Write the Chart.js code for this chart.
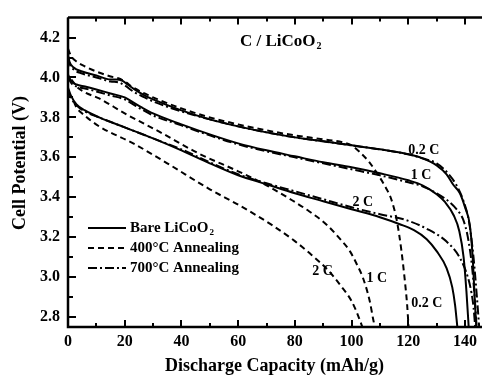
<!DOCTYPE html>
<html>
<head>
<meta charset="utf-8">
<script src="https://cdn.jsdelivr.net/npm/chart.js@4.4.0/dist/chart.umd.min.js"></script>
<style>
  html, body { margin: 0; padding: 0; background: #fff; }
  #wrap { width: 482px; height: 377px; }
</style>
</head>
<body>
<div id="wrap"><canvas id="myChart" width="482" height="377"></canvas></div>
<script>
// capacity (mAh/g) and cell potential (V)
// bare LiCoO2
var bare02Cap = [0, 0.5, 2, 5, 10, 15, 17, 19, 21, 24, 27, 30, 40, 50, 60, 70, 80, 90, 100, 110, 120, 125, 130, 133.5, 136, 138.2, 140, 141.7, 142.7, 143.4, 144];
var bare02V   = [4.115, 4.08, 4.05, 4.03, 4.01, 3.99, 3.99, 3.985, 3.965, 3.935, 3.91, 3.89, 3.835, 3.79, 3.755, 3.725, 3.70, 3.68, 3.66, 3.64, 3.615, 3.595, 3.56, 3.515, 3.46, 3.42, 3.35, 3.26, 3.10, 2.90, 2.75];
var bare1Cap  = [0, 1, 3, 6, 10, 15, 20, 23, 26, 30, 40, 50, 60, 70, 80, 90, 100, 110, 120, 125, 130, 133, 136, 138, 139.5, 140.5, 141.3];
var bare1V    = [4.015, 3.985, 3.965, 3.955, 3.94, 3.92, 3.90, 3.875, 3.85, 3.82, 3.765, 3.715, 3.67, 3.635, 3.605, 3.575, 3.55, 3.52, 3.485, 3.46, 3.415, 3.375, 3.31, 3.23, 3.10, 2.93, 2.75];
var bare2Cap  = [0, 1, 3, 6, 11, 20, 30, 40, 50, 60, 70, 80, 90, 100, 110, 117, 122, 126.5, 130, 133.5, 135.5, 136.5, 137.3];
var bare2V    = [3.95, 3.91, 3.865, 3.835, 3.80, 3.75, 3.695, 3.635, 3.57, 3.51, 3.465, 3.42, 3.38, 3.34, 3.30, 3.265, 3.235, 3.19, 3.13, 3.045, 2.95, 2.86, 2.75];

// 400 C annealing
var a400_02Cap = [0, 1, 3, 6, 10, 15, 18, 20, 23, 27, 30, 40, 50, 60, 70, 80, 90, 97, 100, 103, 106, 109, 112, 114, 116, 117.6, 118.8, 119.6, 120.1];
var a400_02V   = [4.145, 4.11, 4.08, 4.055, 4.03, 4.005, 3.995, 3.98, 3.95, 3.92, 3.90, 3.845, 3.80, 3.765, 3.735, 3.71, 3.69, 3.675, 3.66, 3.625, 3.58, 3.52, 3.45, 3.39, 3.28, 3.13, 2.98, 2.86, 2.75];
var a400_1Cap  = [1.2, 3, 6, 11, 20, 32, 46, 60, 70, 79, 85, 91, 96, 99.4, 102, 104, 106.4, 107.6, 108.2];
var a400_1V    = [3.99, 3.955, 3.925, 3.895, 3.82, 3.73, 3.62, 3.53, 3.46, 3.385, 3.33, 3.265, 3.19, 3.13, 3.06, 2.997, 2.88, 2.79, 2.75];
var a400_2Cap  = [2, 3, 5, 11, 23, 35, 50, 60.6, 72, 80, 86, 92, 96, 100, 102.5, 103.8];
var a400_2V    = [3.88, 3.85, 3.82, 3.755, 3.67, 3.57, 3.44, 3.358, 3.26, 3.18, 3.11, 3.03, 2.96, 2.88, 2.80, 2.75];

// 700 C annealing
var a700_02Cap = [0, 0.5, 2, 5, 10, 15, 18, 20, 23, 27, 30, 40, 50, 60, 70, 80, 90, 100, 110, 120, 125, 130, 134, 137, 139.5, 141.5, 143, 144.2, 145];
var a700_02V   = [4.10, 4.07, 4.04, 4.02, 4.00, 3.98, 3.975, 3.96, 3.93, 3.90, 3.88, 3.83, 3.79, 3.755, 3.725, 3.70, 3.68, 3.66, 3.64, 3.615, 3.595, 3.57, 3.52, 3.46, 3.38, 3.27, 3.10, 2.90, 2.75];
var a700_1Cap  = [0, 1, 3, 6, 10, 15, 20, 23, 26, 30, 40, 50, 60, 70, 80, 90, 100, 110, 120, 125, 130, 134.6, 137, 139.3, 141, 142.5, 143.5, 144.1];
var a700_1V    = [4.005, 3.975, 3.955, 3.945, 3.93, 3.91, 3.89, 3.865, 3.84, 3.81, 3.76, 3.71, 3.665, 3.63, 3.60, 3.57, 3.54, 3.51, 3.475, 3.455, 3.42, 3.375, 3.34, 3.29, 3.20, 3.05, 2.88, 2.75];
var a700_2Cap  = [0, 1, 3, 6, 11, 20, 30, 40, 50, 60, 70, 80, 90, 100, 110, 119.4, 126.4, 133.5, 138.2, 141, 142.3, 143, 143.6];
var a700_2V    = [3.94, 3.90, 3.86, 3.83, 3.80, 3.75, 3.695, 3.64, 3.575, 3.515, 3.47, 3.43, 3.39, 3.35, 3.315, 3.285, 3.243, 3.178, 3.096, 3.0, 2.92, 2.85, 2.75];

var xTicks = [0, 20, 40, 60, 80, 100, 120, 140];
var yTicks = [2.8, 3.0, 3.2, 3.4, 3.6, 3.8, 4.0, 4.2];

var legendNames = ['Bare LiCoO', '400\u00B0C Annealing', '700\u00B0C Annealing'];
// rate labels: text, capacity, potential
var rateLabels = [
    ['0.2 C', 125.5, 3.635],
    ['1 C', 124.5, 3.51],
    ['2 C', 104, 3.375],
    ['2 C', 89.8, 3.03],
    ['1 C', 108.9, 2.995],
    ['0.2 C', 126.5, 2.87]
];

var FONT = "'Liberation Serif', 'Times New Roman', serif";
var DASH = [6, 4];
var DASHDOT = [9, 3, 2, 3];

function pts(xs, ys) {
    var out = [];
    for (var i = 0; i < xs.length; i++) {
        out.push({x: xs[i], y: ys[i]});
    }
    return out;
}

function curve(xs, ys, dash) {
    return {
        data: pts(xs, ys),
        borderColor: '#000',
        borderWidth: 2,
        borderDash: dash,
        pointRadius: 0,
        fill: false,
        cubicInterpolationMode: 'monotone'
    };
}

var datasets = [
    curve(bare02Cap, bare02V, []),
    curve(bare1Cap, bare1V, []),
    curve(bare2Cap, bare2V, []),
    curve(a400_02Cap, a400_02V, DASH),
    curve(a400_1Cap, a400_1V, DASH),
    curve(a400_2Cap, a400_2V, DASH),
    curve(a700_02Cap, a700_02V, DASHDOT),
    curve(a700_1Cap, a700_1V, DASHDOT),
    curve(a700_2Cap, a700_2V, DASHDOT)
];

// text with a small lowered "2" after it
function textSub2(ctx, txt, x, y, size) {
    ctx.font = 'bold ' + size + 'px ' + FONT;
    ctx.fillText(txt, x, y);
    var w = ctx.measureText(txt).width;
    ctx.font = 'bold ' + Math.round(size * 0.6) + 'px ' + FONT;
    ctx.fillText('2', x + w + 1, y + size * 0.28);
}

// frame, inward ticks, legend and labels
var decor = {
    id: 'decor',
    afterDraw: function (chart) {
        var ctx = chart.ctx;
        var a = chart.chartArea;
        var xs = chart.scales.x, ys = chart.scales.y;
        var i, px, py;
        ctx.save();
        ctx.strokeStyle = '#000';
        ctx.fillStyle = '#000';
        ctx.lineWidth = 2.5;
        ctx.beginPath();
        ctx.moveTo(a.left, a.top);
        ctx.lineTo(a.left, a.bottom);
        ctx.lineTo(chart.width, a.bottom);
        ctx.moveTo(a.left, a.top);
        ctx.lineTo(chart.width, a.top);
        ctx.stroke();

        ctx.lineWidth = 2;
        ctx.beginPath();
        for (i = 0; i <= 140; i += 10) {
            var len = (i % 20 === 0) ? 7 : 4;
            px = Math.round(xs.getPixelForValue(i));
            ctx.moveTo(px, a.bottom);
            ctx.lineTo(px, a.bottom - len);
            ctx.moveTo(px, a.top);
            ctx.lineTo(px, a.top + len);
        }
        for (i = 28; i <= 42; i++) {
            var lenY = (i % 2 === 0) ? 8 : 5;
            py = Math.round(ys.getPixelForValue(i / 10));
            ctx.moveTo(a.left, py);
            ctx.lineTo(a.left + lenY, py);
        }
        ctx.stroke();

        // y axis title
        ctx.save();
        ctx.translate(20, 163);
        ctx.rotate(-Math.PI / 2);
        ctx.font = 'bold 18px ' + FONT;
        ctx.textAlign = 'center';
        ctx.textBaseline = 'middle';
        ctx.fillText('Cell Potential (V)', 0, 0);
        ctx.restore();

        // legend
        var dashes = [[], DASH, DASHDOT];
        var rowY = [228, 248, 268];
        ctx.lineWidth = 2;
        ctx.textBaseline = 'middle';
        ctx.textAlign = 'left';
        for (i = 0; i < 3; i++) {
            ctx.setLineDash(dashes[i]);
            ctx.beginPath();
            ctx.moveTo(88, rowY[i]);
            ctx.lineTo(126, rowY[i]);
            ctx.stroke();
            if (i === 0) {
                textSub2(ctx, legendNames[i], 130, rowY[i], 15);
            } else {
                ctx.font = 'bold 15px ' + FONT;
                ctx.fillText(legendNames[i], 130, rowY[i]);
            }
        }
        ctx.setLineDash([]);

        // title
        ctx.textAlign = 'left';
        textSub2(ctx, 'C / LiCoO', 240, 42, 17);

        // rate labels
        ctx.font = 'bold 14px ' + FONT;
        ctx.textAlign = 'center';
        for (i = 0; i < rateLabels.length; i++) {
            ctx.fillText(rateLabels[i][0], xs.getPixelForValue(rateLabels[i][1]), ys.getPixelForValue(rateLabels[i][2]));
        }
        ctx.restore();
    }
};

Chart.defaults.font.family = FONT;
Chart.defaults.font.weight = 'bold';
Chart.defaults.color = '#000';

var ctx = document.getElementById('myChart');
window.myChart = new Chart(ctx, {
    type: 'line',
    data: {datasets: datasets},
    options: {
        responsive: false,
        animation: false,
        layout: {padding: {top: 13, right: 0, left: 0, bottom: 0}},
        plugins: {legend: {display: false}, tooltip: {enabled: false}},
        scales: {
            x: {
                type: 'linear',
                min: 0,
                max: 145.6,
                afterBuildTicks: function (s) { s.ticks = xTicks.map(function (v) { return {value: v}; }); },
                afterFit: function (s) { s.height = 50; },
                grid: {display: false, drawTicks: false},
                border: {display: false},
                ticks: {font: {size: 16, weight: 'bold'}, padding: 5, maxRotation: 0, autoSkip: false},
                title: {display: true, text: 'Discharge Capacity (mAh/g)', font: {size: 18, weight: 'bold'}, padding: {top: 0, bottom: 0}}
            },
            y: {
                type: 'linear',
                min: 2.75,
                max: 4.3,
                afterBuildTicks: function (s) { s.ticks = yTicks.map(function (v) { return {value: v}; }); },
                afterFit: function (s) { s.width = 68; },
                grid: {display: false, drawTicks: false},
                border: {display: false},
                ticks: {
                    font: {size: 16, weight: 'bold'},
                    padding: 8,
                    callback: function (v) { return v.toFixed(1); }
                }
            }
        }
    },
    plugins: [decor]
});
</script>
</body>
</html>
